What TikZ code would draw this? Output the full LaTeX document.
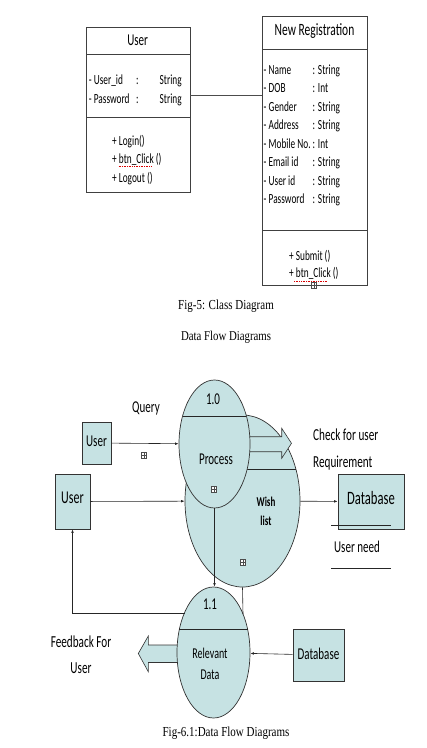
\documentclass[tikz,border=0pt]{standalone}
\usepackage{fontspec}
\setmainfont{Carlito}
\newfontfamily\capfont{Liberation Serif}
\usetikzlibrary{shapes.geometric,arrows.meta}
\definecolor{dfdblue}{RGB}{198,226,227}
\newcommand{\fsz}[1]{\fontsize{#1}{#1}\selectfont}

\begin{document}
\begin{tikzpicture}[x=1pt,y=-1pt,
    every node/.style={inner sep=0pt},
    txt/.style={yscale=1.5,transform shape},
    captxt/.style={yscale=1.25,transform shape,font=\capfont\fsz{11}},
    compart/.style={draw=black!75,line width=0.6pt,anchor=north west},
    attr/.style={txt,anchor=base west,font=\fsz{9.3}},
    ent/.style={draw=black!80,fill=dfdblue,line width=0.7pt},
    bubble/.style={ellipse,draw=black!80,fill=dfdblue,line width=0.7pt},
    chord/.style={black!85,line width=0.7pt},
    flow/.style={black!85,line width=0.6pt,-{Latex[length=3.5pt,width=2.6pt]}},
    fat/.style={draw=black!80,fill=dfdblue,line width=0.6pt},
    plusbox/.style={draw=black!70,fill=white,line width=0.4pt,minimum width=5pt,minimum height=6pt,
      path picture={\draw[black!70,line width=0.4pt]
        (path picture bounding box.north) -- (path picture bounding box.south)
        (path picture bounding box.west) -- (path picture bounding box.east);}},
    squiggle/.style={red!85!black,densely dotted,line width=0.7pt}]

  \useasboundingbox (0,0) rectangle (427,748);

  % class diagram: User
  \node[compart,minimum width=104pt,minimum height=27.3pt] (utitle) at (85.7,26.7) {};
  \node[compart,minimum width=104pt,minimum height=62.7pt] (uattr) at (85.7,54) {};
  \node[compart,minimum width=104pt,minimum height=75.6pt] (umeth) at (85.7,116.7) {};
  \node[txt,font=\fsz{11}] (utxt) at (137.7,40.5) {User};
  \node[attr] (uid) at (88.7,84.3) {- User\_id};
  \node[attr] (uidc) at (136,84.3) {:};
  \node[attr] (uids) at (159.5,84.3) {String};
  \node[attr] (upw) at (88.7,103.3) {- Password};
  \node[attr] (upwc) at (136,103.3) {:};
  \node[attr] (upws) at (159.5,103.3) {String};
  \node[attr] (ulog) at (112,145.5) {+ Login()};
  \node[attr] (ubtn) at (112,163.8) {+ btn\_Click ()};
  \node[attr] (uout) at (112,182) {+ Logout ()};
  \draw[squiggle] (118.5,166.3) -- (152,166.3);

  % class diagram: New Registration
  \node[compart,minimum width=104.4pt,minimum height=33.6pt] (rtitle) at (262.3,15.7) {};
  \node[compart,minimum width=104.4pt,minimum height=180.7pt] (rattr) at (262.3,49.3) {};
  \node[compart,minimum width=104.4pt,minimum height=55pt] (rmeth) at (262.3,230) {};
  \node[txt,font=\fsz{11.5}] (rtxt) at (314.5,31) {New Registration};
  \foreach \nm/\ty [count=\i from 0] in {Name/String, DOB/Int, Gender/String, Address/String,
      Mobile No./Int, Email id/String, User id/String, Password/String} {
    \node[attr] (ra\i) at (263.5,74.3+18.5*\i) {- \nm};
    \node[attr] (rt\i) at (312.5,74.3+18.5*\i) {: \ty};
  }
  \node[attr] (rsub) at (289,260.7) {+ Submit ()};
  \node[attr] (rbtn) at (289,277.5) {+ btn\_Click ()};
  \draw[squiggle] (294,281.5) -- (327,281.5);
  \node[plusbox] (rplus) at (314,285.5) {};

  \draw[black!70,line width=0.6pt] (uattr.east |- 0,95.3) -- (rattr.west |- 0,95.3);

  \node[captxt] (cap1) at (226,306) {Fig-5: Class Diagram};
  \node[captxt,font=\capfont\fsz{10.8}] (cap2) at (226,337) {Data Flow Diagrams};

  % data flow diagram
  \node[bubble,minimum width=115pt,minimum height=172pt] (wish) at (242.5,501) {};
  \draw[chord] (235,469) -- (295.9,469);
  \draw[fat] (240,436.7) -- (281.7,436.7) -- (281.7,428.3) -- (291.5,443.3) -- (281.7,458.3)
    -- (281.7,451.7) -- (240,451.7) -- cycle;
  \node[bubble,minimum width=71pt,minimum height=128pt] (proc) at (214.5,444) {};
  \draw[chord] (182.6,416) -- (246.4,416);
  \draw[fat] (185,645) -- (148.3,645) -- (148.3,636) -- (138.3,653.5) -- (148.3,671.7)
    -- (148.3,662.5) -- (185,662.5) -- cycle;
  \node[bubble,minimum width=73pt,minimum height=131pt] (rel) at (213.5,652.5) {};
  \draw[chord] (179.4,629) -- (247.6,629);

  \node[txt,font=\fsz{11}] (p10) at (213,399) {1.0};
  \node[txt,font=\fsz{11}] (ptxt) at (216,459) {Process};
  \node[plusbox] (pp) at (214,489) {};
  \node[txt,align=center,font=\bfseries\fontsize{9}{12.7}\selectfont] (wtxt) at (266,511) {Wish\\list};
  \node[plusbox] (wp) at (243,562) {};
  \node[txt,font=\fsz{11}] (r11) at (210,604) {1.1};
  \node[txt,align=center,font=\fontsize{10}{14}\selectfont] (rtxt2) at (210,663.5) {Relevant\\Data};

  \node[txt,font=\fsz{11}] (qry) at (146,408) {Query};
  \node[txt,anchor=west,align=left,font=\fontsize{11.2}{18}\selectfont] (chk) at (313,449.5) {Check for user\\Requirement};

  \node[ent,minimum width=29pt,minimum height=42pt] (usera) at (96.5,443) {};
  \node[txt,font=\fsz{11}] (useratxt) at (96.5,441) {User};
  \node[plusbox] (qp) at (144,455) {};
  \node[ent,minimum width=35pt,minimum height=55pt] (userb) at (72.5,501.5) {};
  \node[txt,font=\fsz{12}] (userbtxt) at (72.5,498) {User};
  \node[ent,minimum width=66pt,minimum height=55pt] (dba) at (371,501.5) {};
  \node[txt,font=\fsz{12.6}] (dbatxt) at (371,498) {Database};
  \draw[chord] (331,525.5) -- (391,525.5);
  \node[txt,font=\fsz{11}] (need) at (357,547) {User need};
  \draw[chord] (331,568) -- (391,568);
  \node[ent,minimum width=51pt,minimum height=52pt] (dbb) at (318.5,655) {};
  \node[txt,font=\fsz{11}] (dbbtxt) at (318.5,654) {Database};
  \node[txt,align=center,font=\fontsize{11.2}{17.3}\selectfont] (fbtxt) at (81,655) {Feedback For\\User};

  \coordinate (relhit) at (243,614);
  \coordinate (fbk) at (184.5,613);
  \begin{scope}[line width=0.6pt]
    \draw[flow] (usera) -- (proc);
    \draw[flow] (userb) -- (wish);
    \draw[flow] (wish) -- (dba);
    \draw[flow] (proc.south) -- (proc.south |- rel.north);
    \draw[black!85] (wish.south) -- (relhit);
    \draw[flow] (fbk) -| (userb.south);
    \draw[flow] (dbb) -- (rel);
  \end{scope}

  \node[captxt] (cap3) at (226,733) {Fig-6.1:Data Flow Diagrams};
\end{tikzpicture}
\end{document}
